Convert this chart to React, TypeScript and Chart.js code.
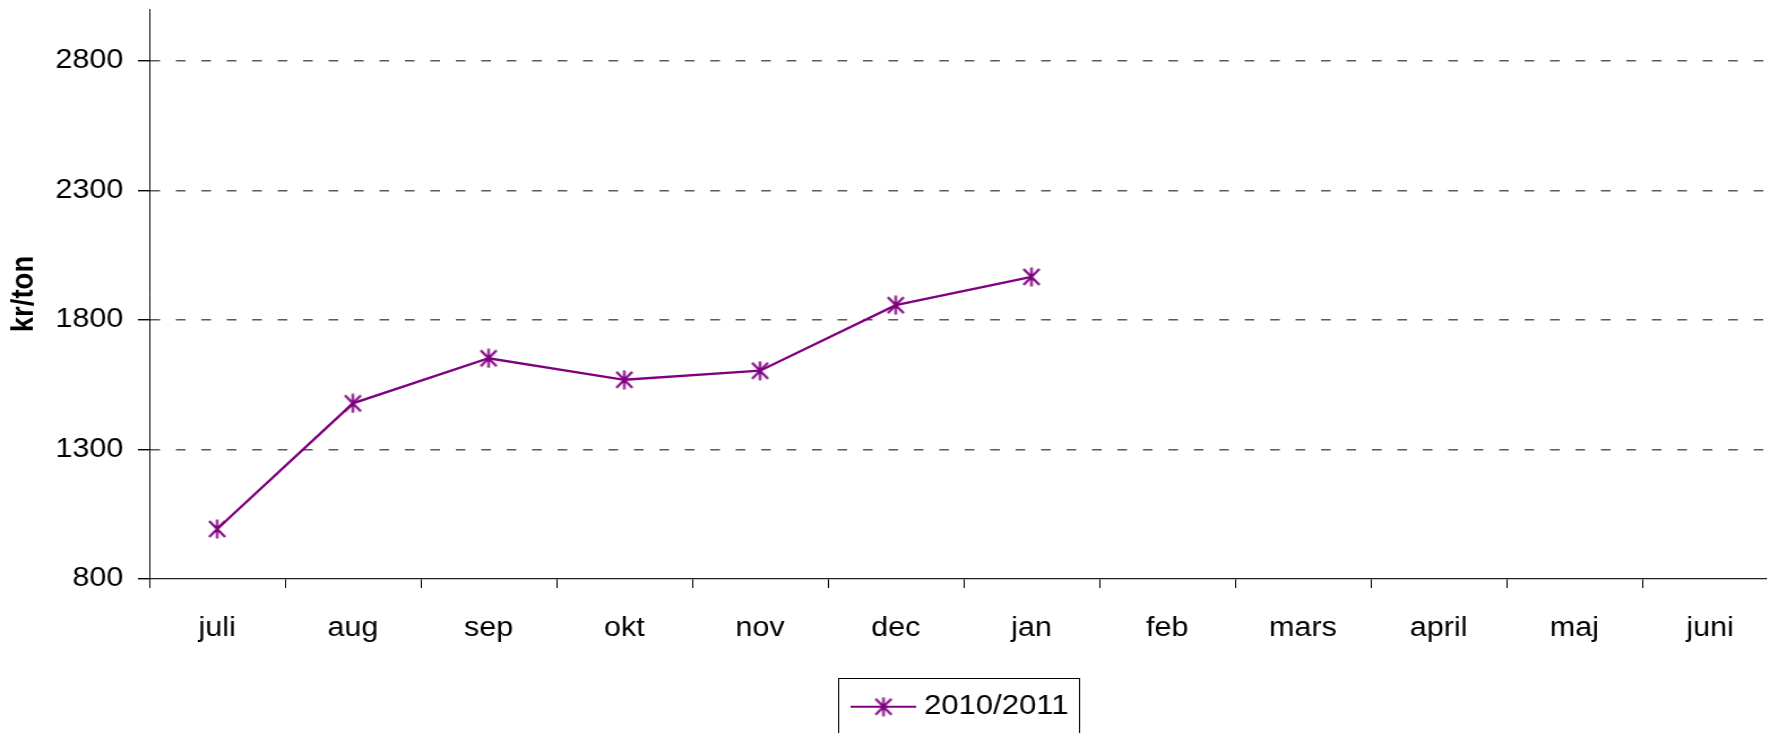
import React, { useEffect, useRef } from 'react';
import { Chart, registerables } from 'chart.js';

Chart.register(...registerables);

// ---- data ----
const months = ['juli', 'aug', 'sep', 'okt', 'nov', 'dec', 'jan', 'feb', 'mars', 'april', 'maj', 'juni'];
const prices20102011: (number | null)[] = [993, 1478, 1652, 1569, 1604, 1857, 1966, null, null, null, null, null];
const seriesLabel = '2010/2011';
const yTicks = [800, 1300, 1800, 2300, 2800];
const yMin = 800;
const yMax = 3000;
const yTitle = 'kr/ton';

// ---- style ----
const PURPLE = '#800080';
const STRETCH = 1.131;
const FONT = '"Liberation Sans", Arial, Helvetica, sans-serif';
const CANVAS_W = 1590;
const CANVAS_H = 760;
const TICK_SIZE = 27;
const LEGEND_SIZE = 27.5;
const POINT_STYLE_W = 44;

function makeStar(): HTMLCanvasElement {
  const c = document.createElement('canvas');
  c.width = 17;
  c.height = 20;
  const g = c.getContext('2d')!;
  g.strokeStyle = PURPLE;
  g.lineWidth = 2.1;
  g.beginPath();
  g.moveTo(1.5, 2); g.lineTo(15.5, 18);
  g.moveTo(15.5, 2); g.lineTo(1.5, 18);
  g.moveTo(8.5, 0.5); g.lineTo(8.5, 19.5);
  g.stroke();
  return c;
}

function makeLegendSymbol(): HTMLCanvasElement {
  const c = document.createElement('canvas');
  c.width = 58;
  c.height = 20;
  const g = c.getContext('2d')!;
  g.strokeStyle = PURPLE;
  g.lineWidth = 2.2;
  g.beginPath();
  g.moveTo(0, 10); g.lineTo(58, 10);
  g.stroke();
  g.drawImage(makeStar(), 20.5, 0);
  return c;
}

const legendBorder = {
  id: 'legendBorder',
  afterDraw(chart: any) {
    const lg = chart.legend;
    if (!lg || !lg.legendHitBoxes || !lg.legendHitBoxes.length) return;
    const hb = lg.legendHitBoxes[0];
    const ctx = chart.ctx;
    const left = Math.round(hb.left + POINT_STYLE_W / 2 - 29 - 11) + 0.5;
    const right = Math.round(hb.left + hb.width + 9) + 0.5;
    const top = Math.round(hb.top + hb.height / 2 - 29) + 0.5;
    ctx.save();
    ctx.strokeStyle = '#000';
    ctx.lineWidth = 1;
    ctx.strokeRect(left, top, right - left, 70);
    ctx.restore();
  },
};

export default function App() {
  const ref = useRef<HTMLCanvasElement | null>(null);

  useEffect(() => {
    if (!ref.current) return;
    const star = makeStar();
    const legendSym = makeLegendSymbol();
    const chart = new Chart(ref.current, {
      type: 'line',
      data: {
        labels: months,
        datasets: [
          {
            label: seriesLabel,
            data: prices20102011,
            borderColor: PURPLE,
            backgroundColor: PURPLE,
            borderWidth: 2.3,
            tension: 0,
            pointStyle: star as any,
            pointRadius: 6,
            spanGaps: false,
          },
        ],
      },
      options: {
        responsive: false,
        animation: false,
        events: [],
        layout: { padding: { top: 9, left: 0, right: CANVAS_W - 132 - 1440, bottom: 29.5 } },
        plugins: {
          tooltip: { enabled: false },
          legend: {
            position: 'bottom',
            fullSize: false,
            labels: {
              usePointStyle: true,
              pointStyle: legendSym as any,
              pointStyleWidth: POINT_STYLE_W,
              padding: 10,
              color: '#000',
              font: { family: FONT, size: LEGEND_SIZE },
            },
          },
        },
        scales: {
          x: {
            type: 'category',
            offset: true,
            grid: {
              display: true,
              offset: true,
              drawOnChartArea: false,
              drawTicks: true,
              tickLength: 9,
              color: '#000',
              tickColor: '#000',
              lineWidth: 1,
            },
            border: { display: true, color: '#222', width: 1.3 },
            ticks: {
              color: '#000',
              font: { family: FONT, size: TICK_SIZE },
              padding: 24,
              autoSkip: false,
              maxRotation: 0,
              minRotation: 0,
            },
            afterFit(scale: any) {
              scale.height = 104;
              scale.paddingLeft = 0;
              scale.paddingRight = 0;
            },
          },
          y: {
            type: 'linear',
            min: yMin,
            max: yMax,
            afterBuildTicks(scale: any) {
              scale.ticks = yTicks.map((v) => ({ value: v }));
            },
            grid: {
              display: true,
              drawTicks: true,
              tickLength: 10,
              color: (c: any) => (c.tick && c.tick.value === yMin ? 'rgba(0,0,0,0)' : '#5a5a5a'),
              tickColor: '#000',
              lineWidth: 1.4,
            },
            border: { display: true, color: '#000', width: 1, dash: [8.5, 14] },
            ticks: {
              color: '#000',
              font: { family: FONT, size: TICK_SIZE },
              padding: 13,
              callback: (v: any) => String(v),
            },
            title: {
              display: true,
              text: yTitle,
              color: '#000',
              font: { family: FONT, size: 27.5, weight: 'bold' },
              padding: { top: 5, bottom: 0 },
            },
            afterFit(scale: any) {
              scale.width = 132;
              scale.paddingTop = 0;
              scale.paddingBottom = 0;
            },
          },
        },
      },
      plugins: [legendBorder],
    } as any);
    return () => chart.destroy();
  }, []);

  return (
    <div
      style={{
        position: 'fixed',
        left: 0,
        top: 0,
        width: '1767px',
        height: '733px',
        overflow: 'hidden',
        background: '#fff',
      }}
    >
      <canvas
        ref={ref}
        width={CANVAS_W}
        height={CANVAS_H}
        style={{
          display: 'block',
          transform: `scaleX(${STRETCH})`,
          transformOrigin: '0 0',
        }}
      />
    </div>
  );
}
